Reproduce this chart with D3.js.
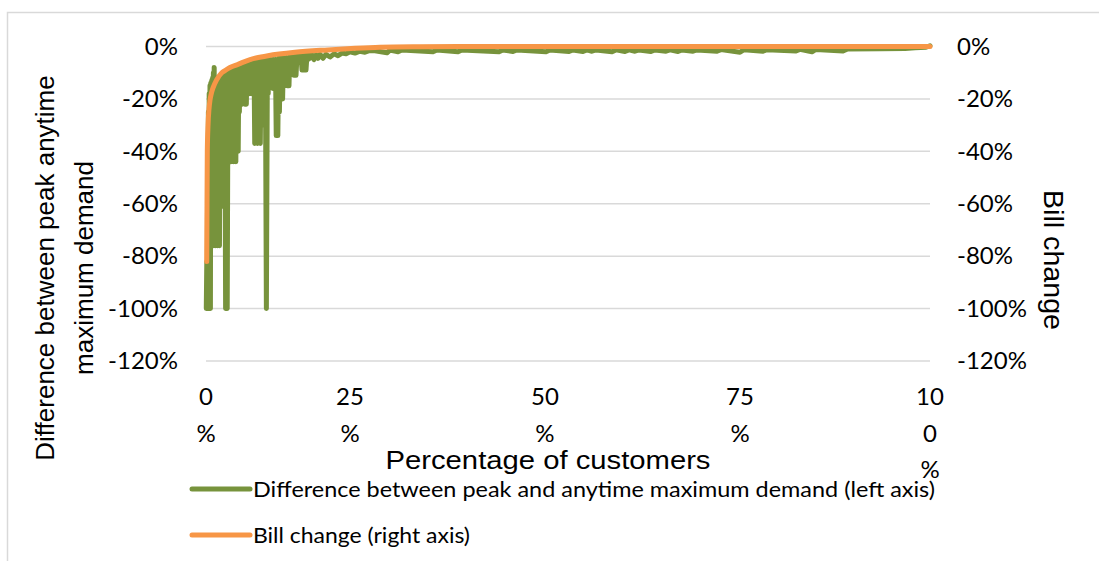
<!DOCTYPE html>
<html>
<head>
<meta charset="utf-8">
<script src="https://cdn.jsdelivr.net/npm/d3@7"></script>
<style>
  body { margin: 0; background: #fff; }
  svg text { fill: #000; }
</style>
</head>
<body>
<div id="chart"></div>
<script>
// 数据：客户位置(0-100, 横轴位置) 与数值(%)
const yTicks = [0, -20, -40, -60, -80, -100, -120]
const xTickAt = [0, 19.89, 46.82, 73.76, 100]
const xTickLines = [['0', '%'], ['25', '%'], ['50', '%'], ['75', '%'], ['10', '0', '%']]
const legendNames = ['Difference between peak and anytime maximum demand  (left axis)', 'Bill change (right axis)']

// 账单变化（右轴）
const billChange = [
  [0.10, -82], [0.14, -60], [0.18, -40], [0.28, -30], [0.41, -24], [0.55, -20.5],
  [0.73, -18], [1.01, -15.5], [1.45, -12.8], [2.18, -10], [2.62, -9.2], [3.31, -8],
  [4.42, -6.8], [6.08, -5], [6.91, -4.4], [8.56, -3.5], [12.29, -2.2], [16.85, -1.3],
  [20.58, -0.7], [24.03, -0.3], [29.56, -0.1], [37.85, 0], [100, 0]
]

// 峰值与任意时刻最大需量之差（左轴）
const demandDiff = [
  [0.04, -100], [0.11, -82], [0.17, -100], [0.22, -45], [0.28, -97], [0.33, -25], [0.39, -100],
  [0.44, -18], [0.50, -88], [0.55, -15], [0.61, -100], [0.66, -14], [0.73, -70], [0.79, -13],
  [0.84, -76], [0.91, -12], [0.97, -50], [1.02, -10], [1.08, -76], [1.13, -8], [1.19, -60],
  [1.24, -12], [1.31, -76], [1.38, -12], [1.45, -45], [1.52, -12], [1.59, -76], [1.66, -12],
  [1.73, -55], [1.80, -12], [1.86, -76], [1.93, -12], [2.02, -61], [2.10, -11], [2.18, -61],
  [2.27, -11], [2.35, -61], [2.43, -11], [2.51, -40], [2.60, -11], [2.71, -100], [2.82, -10],
  [2.93, -100], [3.04, -10], [3.12, -44], [3.20, -10], [3.29, -44], [3.37, -9], [3.45, -44],
  [3.54, -9], [3.62, -30], [3.70, -9], [3.78, -44], [3.87, -9], [3.95, -40], [4.03, -9],
  [4.12, -44], [4.20, -8.5], [4.28, -40], [4.36, -8.5], [4.45, -40], [4.53, -8], [4.61, -25],
  [4.70, -8], [4.79, -22], [4.89, -8], [4.99, -22], [5.08, -8], [5.18, -20], [5.28, -7.5],
  [5.37, -22], [5.47, -7], [5.57, -22], [5.66, -7], [5.76, -18], [5.86, -7], [5.95, -18],
  [6.05, -6.5], [6.15, -15], [6.24, -6.5], [6.34, -18], [6.44, -6.5], [6.53, -12], [6.63, -6],
  [6.73, -37], [6.82, -6], [6.92, -30], [7.02, -6], [7.11, -37], [7.21, -6], [7.31, -25],
  [7.40, -5.5], [7.50, -37], [7.60, -5.5], [7.69, -20], [7.79, -5.5], [7.89, -15], [7.98, -5.5],
  [8.09, -30], [8.20, -5], [8.34, -100], [8.48, -5], [8.59, -18], [8.70, -5], [8.81, -16],
  [8.92, -5], [9.03, -12], [9.14, -5], [9.25, -16], [9.36, -5], [9.48, -10], [9.59, -5],
  [9.70, -34], [9.81, -5], [9.92, -34], [10.03, -4.5], [10.14, -25], [10.25, -4.5], [10.36, -20],
  [10.47, -4.5], [10.58, -20], [10.69, -4.5], [10.80, -15], [10.91, -4.5], [11.02, -10],
  [11.13, -4.2], [11.24, -15], [11.35, -4.2], [11.46, -15], [11.57, -4], [11.69, -8], [11.80, -4],
  [11.91, -6], [12.02, -4], [12.15, -11], [12.29, -3.8], [12.43, -11], [12.57, -3.7], [12.71, -6],
  [12.85, -3.6], [12.98, -5], [13.12, -3.5], [13.26, -9], [13.40, -3.4], [13.54, -9], [13.67, -3.3],
  [13.81, -9], [13.95, -3.2], [14.09, -5], [14.23, -3.1], [14.36, -4.5], [14.64, -3.2], [14.92, -5],
  [15.19, -3.2], [15.47, -4.5], [15.75, -3], [16.16, -4.5], [16.57, -3], [17.13, -4], [17.68, -2.8],
  [18.23, -3.5], [18.78, -2.5], [19.34, -2.8], [19.89, -2], [20.58, -2.5], [21.27, -1.8],
  [21.96, -2.2], [22.65, -1.5], [23.34, -1.6], [25.00, -2.4], [25.41, -1.4], [26.52, -2.0],
  [27.07, -1.3], [31.35, -2.0], [31.91, -1.3], [34.81, -2.0], [35.36, -1.3], [40.47, -2.0],
  [41.02, -1.3], [42.40, -1.9], [42.96, -1.3], [46.96, -2.0], [47.51, -1.3], [50.14, -1.9],
  [50.69, -1.3], [52.07, -1.9], [52.62, -1.3], [53.31, -1.8], [53.87, -1.3], [56.08, -2.0],
  [56.63, -1.3], [57.87, -1.9], [58.43, -1.3], [59.25, -1.8], [59.81, -1.3], [61.46, -1.9],
  [62.02, -1.3], [63.54, -1.8], [64.09, -1.3], [65.19, -1.9], [65.75, -1.3], [67.27, -1.8],
  [67.82, -1.3], [70.58, -1.8], [71.13, -1.2], [73.76, -2.2], [74.31, -1.2], [76.93, -1.8],
  [77.49, -1.2], [81.49, -1.7], [82.04, -1.1], [83.70, -2.0], [84.25, -1.1], [87.98, -1.7],
  [88.54, -1.0], [93.09, -0.9], [96.55, -0.8], [97.93, -0.5], [99.45, -0.3], [100, 0.3]
]

// 画布
const width = 1099
const height = 561
const plot = {left: 206, right: 930, top: 46.5, bottom: 361}
const green = '#77933c'
const orange = '#f79646'
const tickFont = 'Lato, "Open Sans", sans-serif'
const titleFont = '"Liberation Sans", Arial, sans-serif'

const svg = d3.select('#chart').append('svg').attr('width', width).attr('height', height)

// 图表外框
svg.append('rect').attr('x', 7.5).attr('y', 12.5).attr('width', 1200).attr('height', 700)
  .attr('fill', 'none').attr('stroke', '#d9d9d9').attr('stroke-width', 1.5)

const xScale = d3.scaleLinear().domain([0, 100]).range([plot.left, plot.right])
const yLeft = d3.scaleLinear().domain([-120, 0]).range([plot.bottom, plot.top])
const yRight = d3.scaleLinear().domain([-120, 0]).range([plot.bottom, plot.top])

// 网格线
svg.append('g').selectAll('line').data(yTicks).join('line')
  .attr('x1', plot.left).attr('x2', plot.right)
  .attr('y1', d => yLeft(d)).attr('y2', d => yLeft(d))
  .attr('stroke', '#d9d9d9').attr('stroke-width', 1.5)

// 左右纵轴
const fmt = d => d + '%'
const gl = svg.append('g').attr('transform', 'translate(178,0)')
  .call(d3.axisLeft(yLeft).tickValues(yTicks).tickFormat(fmt).tickSize(0).tickPadding(0))
const gr = svg.append('g').attr('transform', 'translate(957,0)')
  .call(d3.axisRight(yRight).tickValues(yTicks).tickFormat(fmt).tickSize(0).tickPadding(0))
for (const g of [gl, gr]) {
  g.select('.domain').remove()
  g.selectAll('text').attr('font-family', tickFont).attr('font-size', 24).attr('fill', '#000')
}

// 横轴标签（换行）
const xl = svg.append('g').selectAll('text').data(xTickAt).join('text')
  .attr('x', d => xScale(d)).attr('text-anchor', 'middle')
  .attr('font-family', tickFont).attr('font-size', 24)
xl.each(function(d, i) {
  const t = d3.select(this)
  xTickLines[i].forEach((s, j) => {
    t.append('tspan').attr('x', xScale(d)).attr('y', 405 + j * 36.5).text(s)
  })
})

// 数据线
const line = d3.line().x(d => xScale(d[0]))
svg.append('path').datum(demandDiff)
  .attr('d', line.y(d => yLeft(d[1])))
  .attr('fill', 'none').attr('stroke', green).attr('stroke-width', 5)
  .attr('stroke-linejoin', 'round').attr('stroke-linecap', 'round')
svg.append('path').datum(billChange)
  .attr('d', d3.line().x(d => xScale(d[0])).y(d => yRight(d[1])).curve(d3.curveMonotoneX))
  .attr('fill', 'none').attr('stroke', orange).attr('stroke-width', 5)
  .attr('stroke-linejoin', 'round').attr('stroke-linecap', 'round')

// 坐标轴标题
svg.append('text').text('Percentage of customers')
  .attr('x', 548).attr('y', 469).attr('text-anchor', 'middle')
  .attr('font-family', titleFont).attr('font-size', 26)
  .attr('textLength', 325).attr('lengthAdjust', 'spacingAndGlyphs')

const lt = svg.append('text').attr('transform', 'translate(0,268) rotate(-90)')
  .attr('text-anchor', 'middle').attr('font-family', titleFont).attr('font-size', 26)
lt.append('tspan').attr('x', 0).attr('y', 54).text('Difference between peak anytime')
lt.append('tspan').attr('x', 0).attr('y', 93).text('maximum demand')

svg.append('text').text('Bill change')
  .attr('transform', 'translate(1044,260) rotate(90)')
  .attr('text-anchor', 'middle').attr('font-family', titleFont).attr('font-size', 27)
  .attr('textLength', 140).attr('lengthAdjust', 'spacingAndGlyphs')

// 图例
const legendColors = [green, orange]
const legendY = [489, 535]
const legendW = [682, 217]
const lg = svg.append('g').selectAll('g').data(legendNames).join('g')
lg.append('line').attr('x1', 192).attr('x2', 250)
  .attr('y1', (d, i) => legendY[i]).attr('y2', (d, i) => legendY[i])
  .attr('stroke', (d, i) => legendColors[i]).attr('stroke-width', 5).attr('stroke-linecap', 'round')
lg.append('text').text(d => d).attr('x', 253).attr('y', (d, i) => legendY[i] + 8)
  .attr('font-family', tickFont).attr('font-size', 22)
  .attr('textLength', (d, i) => legendW[i]).attr('lengthAdjust', 'spacingAndGlyphs')
</script>
</body>
</html>
